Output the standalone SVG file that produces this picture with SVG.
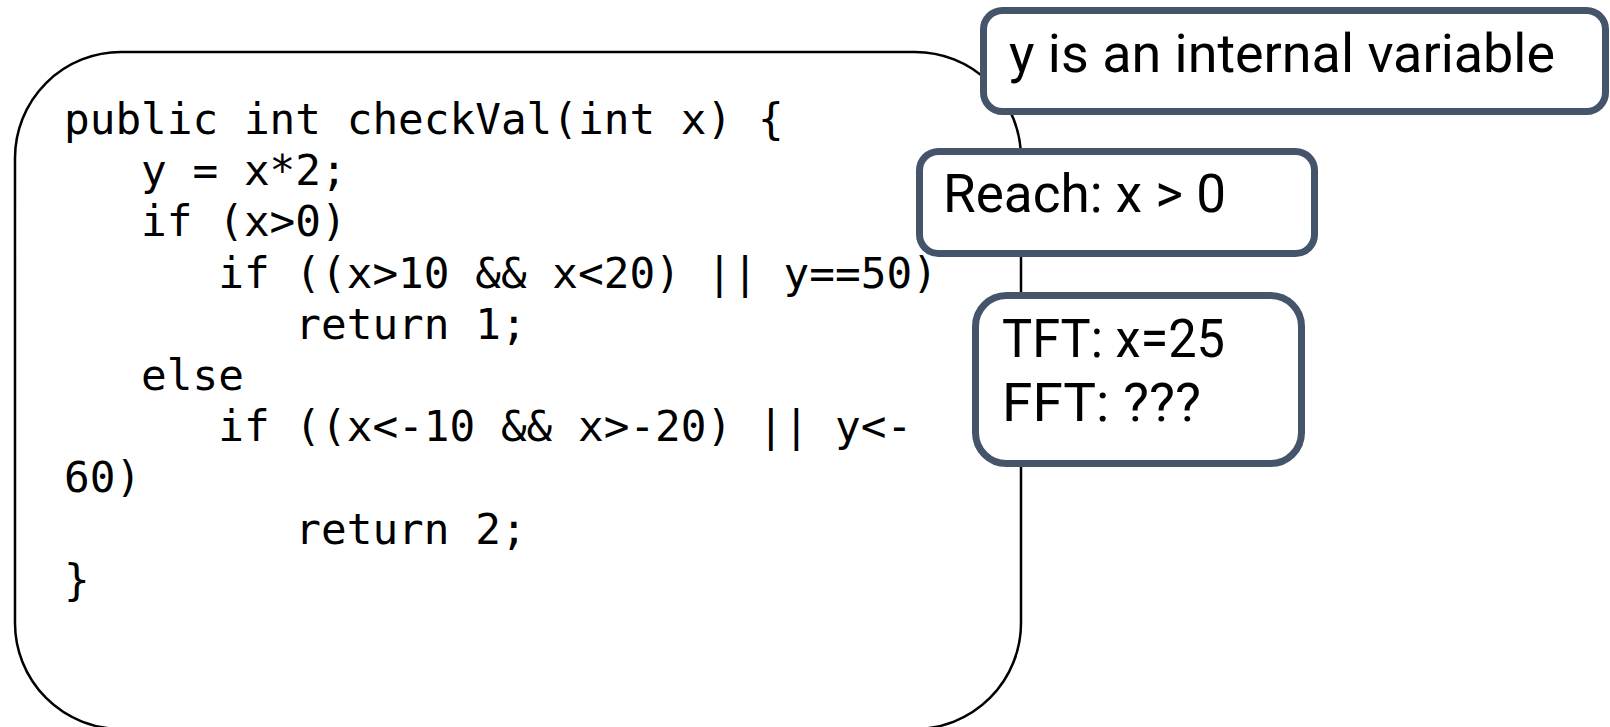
<svg xmlns="http://www.w3.org/2000/svg" width="1610" height="727" viewBox="0 0 1610 727">
  <style>
    .code { font-family: "DejaVu Sans Mono", "Liberation Mono", monospace; font-size: 42.7px; fill: #000; }
    .note { font-family: Roboto, "Liberation Sans", sans-serif; font-size: 53px; fill: #000; }
    .callout { fill: #fff; stroke: #44546A; stroke-width: 7; }
    .frame { fill: #fff; stroke: #000; stroke-width: 2.5; }
  </style>
  <rect width="1610" height="727" fill="#fff"/>
  <g id="code-block">
    <rect class="frame" x="15" y="52" width="1006" height="677" rx="106" ry="106"/>
    <text class="code" x="64" y="134">public int checkVal(int x) {</text>
    <text class="code" x="141.1" y="185.2">y = x*2;</text>
    <text class="code" x="141.1" y="236.4">if (x&gt;0)</text>
    <text class="code" x="218.2" y="287.6">if ((x&gt;10 &amp;&amp; x&lt;20) || y==50)</text>
    <text class="code" x="295.3" y="338.8">return 1;</text>
    <text class="code" x="141.1" y="390">else</text>
    <text class="code" x="218.2" y="441.2">if ((x&lt;-10 &amp;&amp; x&gt;-20) || y&lt;-</text>
    <text class="code" x="64" y="492.4">60)</text>
    <text class="code" x="295.3" y="543.6">return 2;</text>
    <text class="code" x="64" y="594.8">}</text>
  </g>
  <g id="note-internal">
    <rect class="callout" x="983.5" y="10.5" width="622" height="101" rx="19" ry="19"/>
    <text class="note" x="1009" y="72" textLength="546" lengthAdjust="spacingAndGlyphs">y is an internal variable</text>
  </g>
  <g id="note-reach">
    <rect class="callout" x="919.5" y="151.5" width="395" height="102" rx="19" ry="19"/>
    <text class="note" x="943" y="212" textLength="283" lengthAdjust="spacingAndGlyphs">Reach: x &gt; 0</text>
  </g>
  <g id="note-tft">
    <rect class="callout" x="975.5" y="295.5" width="326" height="168" rx="31" ry="31"/>
    <text class="note" x="1002" y="357" textLength="223" lengthAdjust="spacingAndGlyphs">TFT: x=25</text>
    <text class="note" x="1002" y="421" textLength="199" lengthAdjust="spacingAndGlyphs">FFT: ???</text>
  </g>
  <g id="connectors"></g>
</svg>
